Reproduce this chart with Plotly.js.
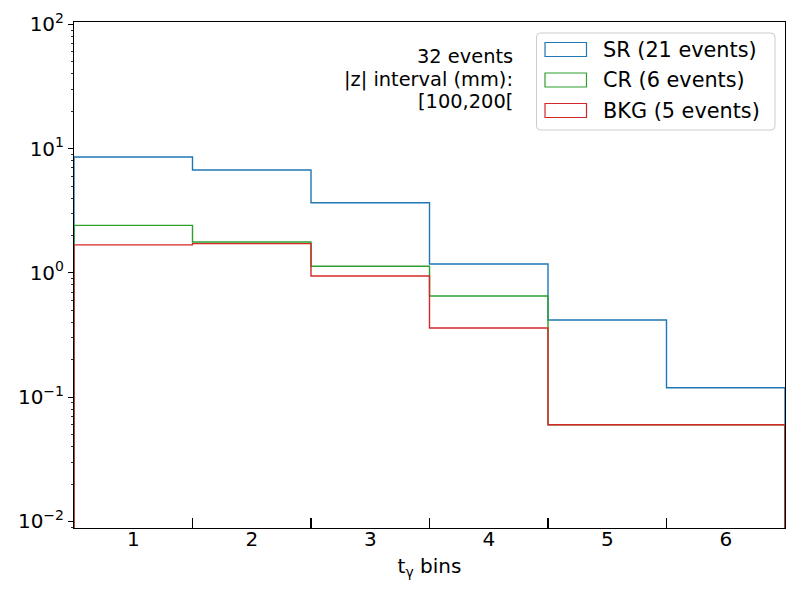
<!DOCTYPE html>
<html>
<head>
<meta charset="utf-8">
<script src="https://cdn.plot.ly/plotly-3.0.1.min.js"></script>
<style>html,body{margin:0;padding:0;background:#fff;}#chart{width:800px;height:600px;}</style>
</head>
<body>
<div id="chart"></div>
<script>
// ---- data ----
const binEdges = [0.5, 1.5, 2.5, 3.5, 4.5, 5.5, 6.5];
const binLabels = ['1', '2', '3', '4', '5', '6'];
const binCenters = [1, 2, 3, 4, 5, 6];
const srValues  = [8.57, 6.73, 3.67, 1.18, 0.418, 0.119];
const crValues  = [2.41, 1.77, 1.13, 0.652, 0.06, 0.06];
const bkgValues = [1.68, 1.72, 0.944, 0.36, 0.06, 0.06];
const seriesNames = ['SR (21 events)', 'CR (6 events)', 'BKG (5 events)'];
const seriesColors = ['#1f77b4', '#2ca02c', '#d62728'];
const infoLines = ['32 events', '|z| interval (mm):', '[100,200['];
const yTickVals = [0.01, 0.1, 1, 10, 100];
const yTickText = ['10<sup>−2</sup>', '10<sup>−1</sup>', '10<sup>0</sup>', '10<sup>1</sup>', '10<sup>2</sup>'];

// ---- step path builder (histtype step, closed to baseline) ----
const FLOOR = 1e-5;
function stepPath(values) {
  const xs = [binEdges[0]], ys = [FLOOR];
  for (let i = 0; i < values.length; i++) {
    xs.push(binEdges[i], binEdges[i + 1]);
    ys.push(values[i], values[i]);
  }
  xs.push(binEdges[binEdges.length - 1]);
  ys.push(FLOOR);
  return {xs, ys};
}

const allSeries = [srValues, crValues, bkgValues];
const traces = allSeries.map((vals, k) => {
  const p = stepPath(vals);
  return {
    type: 'scatter', mode: 'lines', x: p.xs, y: p.ys,
    name: seriesNames[k], showlegend: false,
    line: {color: seriesColors[k], width: 1.4},
    hoverinfo: 'skip'
  };
});

// ---- layout geometry (pixels -> paper) ----
const L = 74, R = 785, T = 22, B = 528;
const W = R - L, H = B - T;
const px = x => (x - L) / W;
const py = y => (B - y) / H;

// minor ticks on log axis
const minorVals = [];
for (let e = -3; e <= 2; e++) for (let d = 2; d <= 9; d++) minorVals.push(d * Math.pow(10, e));

const FONT = 'DejaVu Sans, sans-serif';
const shapes = [];
const annotations = [];

// info text
const infoY = [56.5, 79, 101.5];
infoLines.forEach((t, i) => annotations.push({
  xref: 'paper', yref: 'paper', x: px(515), y: py(infoY[i]),
  xanchor: 'right', yanchor: 'middle', showarrow: false, text: t,
  font: {family: FONT, size: 19.4, color: '#000'}
}));

// legend box
function roundRect(x0, y0, x1, y1, r) {
  const X0 = px(x0), X1 = px(x1), Y0 = py(y0), Y1 = py(y1);
  const rx = r / W, ry = r / H;
  return `M ${X0 + rx} ${Y0} L ${X1 - rx} ${Y0} Q ${X1} ${Y0} ${X1} ${Y0 - ry} L ${X1} ${Y1 + ry} Q ${X1} ${Y1} ${X1 - rx} ${Y1} L ${X0 + rx} ${Y1} Q ${X0} ${Y1} ${X0} ${Y1 + ry} L ${X0} ${Y0 - ry} Q ${X0} ${Y0} ${X0 + rx} ${Y0} Z`;
}
shapes.push({
  type: 'path', xref: 'paper', yref: 'paper', path: roundRect(536.5, 33, 775, 130, 4),
  line: {color: '#cccccc', width: 1}, fillcolor: 'rgba(255,255,255,0.8)', layer: 'above'
});
const legY = [49.5, 80, 110.5];
seriesNames.forEach((n, k) => {
  shapes.push({
    type: 'rect', xref: 'paper', yref: 'paper',
    x0: px(545), x1: px(586.5), y0: py(legY[k] - 7), y1: py(legY[k] + 7),
    line: {color: seriesColors[k], width: 1.2}, fillcolor: 'rgba(0,0,0,0)', layer: 'above'
  });
  annotations.push({
    xref: 'paper', yref: 'paper', x: px(601), y: py(legY[k]),
    xanchor: 'left', yanchor: 'middle', showarrow: false, text: n,
    font: {family: FONT, size: 20.8, color: '#000'}
  });
});

const layout = {
  width: 800, height: 600,
  margin: {l: L, r: 800 - R, t: T, b: 600 - B, pad: 0},
  paper_bgcolor: '#fff', plot_bgcolor: '#fff',
  font: {family: FONT, color: '#000'},
  showlegend: false,
  xaxis: {
    range: [binEdges[0], binEdges[binEdges.length - 1]],
    tickmode: 'array', tickvals: binCenters, ticktext: binLabels,
    ticks: '', showgrid: false, zeroline: false,
    showline: true, mirror: true, linecolor: '#000', linewidth: 1,
    tickfont: {family: FONT, size: 20, color: '#000'},
    ticklabelstandoff: -7,
    minor: {tickmode: 'array', tickvals: binEdges.slice(1, -1), ticks: 'inside', ticklen: 10, tickwidth: 1.3, tickcolor: '#000', showgrid: false},
    title: {text: 't<sub>γ</sub> bins', font: {family: FONT, size: 20, color: '#000'}, standoff: 8},
    automargin: false, fixedrange: true
  },
  yaxis: {
    type: 'log', range: [-2.053, 2.019],
    tickmode: 'array', tickvals: yTickVals, ticktext: yTickText,
    ticks: 'outside', ticklen: 5, tickwidth: 1, tickcolor: '#000',
    showgrid: false, zeroline: false,
    showline: true, mirror: true, linecolor: '#000', linewidth: 1,
    tickfont: {family: FONT, size: 20, color: '#000'},
    minor: {tickmode: 'array', tickvals: minorVals, ticks: 'outside', ticklen: 2.5, tickwidth: 0.8, tickcolor: '#000', showgrid: false},
    automargin: false, fixedrange: true
  },
  shapes: shapes,
  annotations: annotations
};

Plotly.newPlot('chart', traces, layout, {displayModeBar: false, staticPlot: true});
</script>
</body>
</html>
